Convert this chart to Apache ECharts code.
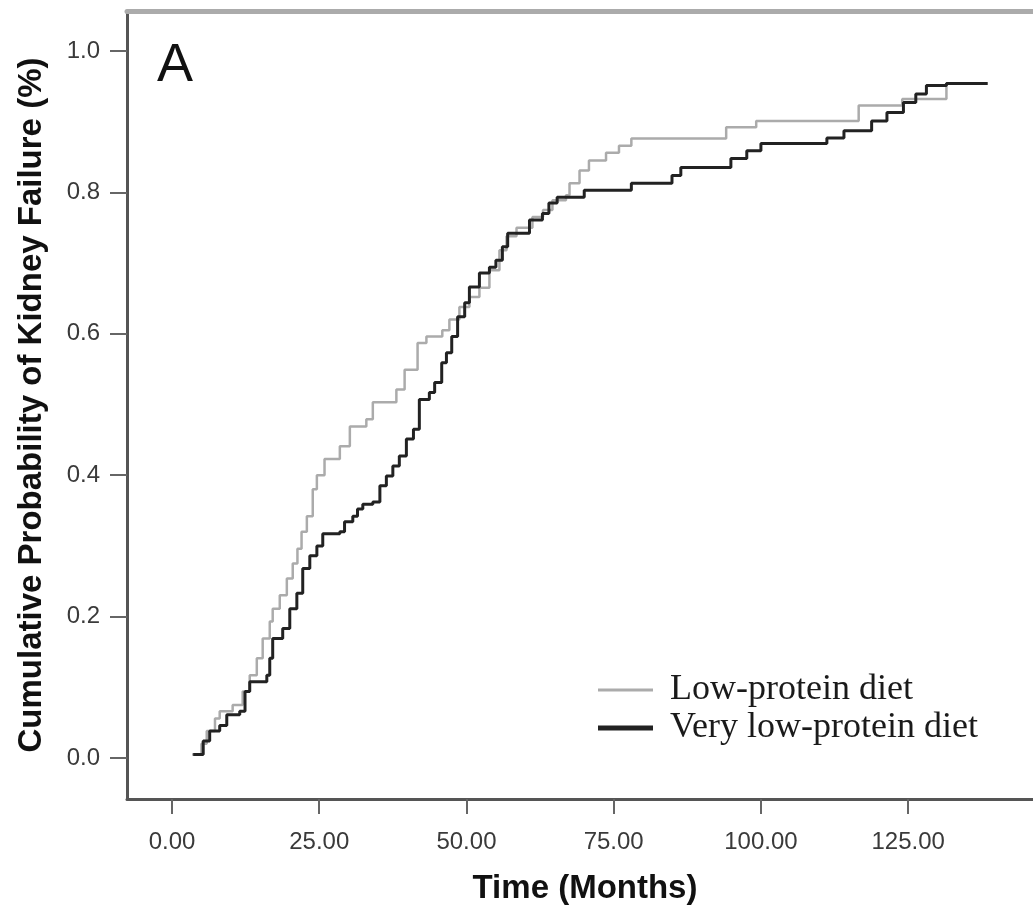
<!DOCTYPE html>
<html>
<head>
<meta charset="utf-8">
<title>Cumulative Probability of Kidney Failure</title>
<script src="https://cdn.jsdelivr.net/npm/echarts@6/dist/echarts.min.js"></script>
<style>
  html, body { margin: 0; padding: 0; background: #fff; }
  #chart { width: 1033px; height: 908px; }
</style>
</head>
<body>
<div id="chart"></div>
<script>
// low-protein diet (grey curve): event times (months) and cumulative probability
var lpdTime = [3.4, 5.0, 5.9, 7.3, 8.1, 10.3, 12.0, 13.2, 14.4, 15.4, 16.6, 17.1, 18.3, 19.5, 20.5, 21.3, 22.0, 22.9, 23.9, 24.6, 25.9, 28.5, 30.2, 33.0, 34.1, 38.1, 39.5, 41.7, 43.2, 45.9, 47.1, 48.8, 50.5, 52.2, 53.9, 55.6, 56.8, 58.5, 61.2, 63.0, 64.6, 66.9, 67.5, 69.2, 70.8, 73.7, 75.9, 78.0, 94.1, 99.2, 116.6, 124.0, 131.5, 138.5];
var lpdProb = [0.005, 0.02, 0.038, 0.056, 0.066, 0.075, 0.094, 0.117, 0.141, 0.169, 0.193, 0.211, 0.23, 0.254, 0.275, 0.296, 0.32, 0.342, 0.38, 0.40, 0.423, 0.441, 0.469, 0.479, 0.503, 0.521, 0.549, 0.587, 0.596, 0.605, 0.62, 0.638, 0.652, 0.665, 0.69, 0.718, 0.738, 0.75, 0.765, 0.775, 0.789, 0.796, 0.813, 0.831, 0.845, 0.856, 0.866, 0.876, 0.892, 0.901, 0.923, 0.932, 0.954, 0.954];

// very low-protein diet (black curve)
var vlpdTime = [3.6, 5.3, 6.4, 8.1, 9.3, 11.5, 12.4, 13.2, 16.1, 16.6, 17.1, 18.8, 20.0, 21.2, 22.2, 23.4, 24.6, 25.6, 28.5, 29.3, 30.7, 31.5, 32.4, 34.1, 35.3, 36.4, 37.5, 38.6, 39.8, 41.0, 42.0, 43.7, 44.6, 45.8, 46.6, 47.5, 48.5, 49.7, 50.5, 52.2, 53.9, 55.0, 56.1, 57.0, 60.7, 62.9, 64.0, 65.4, 70.0, 78.0, 84.9, 86.4, 94.9, 97.6, 100.0, 111.2, 114.1, 118.8, 121.4, 124.2, 126.3, 128.1, 131.5, 138.5];
var vlpdProb = [0.005, 0.024, 0.038, 0.046, 0.061, 0.066, 0.094, 0.108, 0.117, 0.141, 0.169, 0.183, 0.211, 0.233, 0.268, 0.286, 0.30, 0.317, 0.32, 0.334, 0.342, 0.352, 0.359, 0.362, 0.385, 0.399, 0.413, 0.427, 0.451, 0.465, 0.507, 0.517, 0.531, 0.559, 0.573, 0.596, 0.624, 0.644, 0.666, 0.686, 0.694, 0.704, 0.723, 0.742, 0.761, 0.770, 0.785, 0.793, 0.803, 0.813, 0.824, 0.835, 0.848, 0.859, 0.869, 0.877, 0.887, 0.901, 0.913, 0.927, 0.939, 0.951, 0.954, 0.954];

var xTicks = [0, 25, 50, 75, 100, 125];
var yTicks = [0, 0.2, 0.4, 0.6, 0.8, 1.0];

function pairs(t, p) {
  return t.map(function (v, i) { return [v, p[i]]; });
}

var chart = echarts.init(document.getElementById("chart"));

var labelFont = { fontFamily: "Liberation Sans, Arial", fontSize: 24, color: "#3a3a3a" };
var titleFont = { fontFamily: "Liberation Sans, Arial", fontSize: 33, fontWeight: "bold", color: "#111" };
var legendFont = { fontFamily: "Liberation Serif, Times New Roman", fontSize: 36, color: "#1a1a1a", lineHeight: 36, padding: [0, 0, 0, 12] };

chart.setOption({
  animation: false,
  backgroundColor: "#fff",
  grid: { left: 127, right: 0, top: 11, bottom: 109, outerBoundsMode: "none" },
  graphic: [
    {
      type: "text", left: 157, top: 39,
      style: { text: "A", font: "54px Liberation Sans, Arial", fill: "#111" }
    }
  ],
  legend: [
    {
      data: ["Low-protein diet"], left: 593, top: 667, icon: "rect",
      itemWidth: 55, itemHeight: 3, textStyle: legendFont
    },
    {
      data: ["Very low-protein diet"], left: 593, top: 705, icon: "rect",
      itemWidth: 55, itemHeight: 5, textStyle: legendFont
    }
  ],
  xAxis: [
    {
      type: "value", min: -7.64, max: 146.2,
      name: "Time (Months)", nameLocation: "middle", nameGap: 73,
      nameTextStyle: Object.assign({ padding: [0, 0, 0, 10] }, titleFont),
      axisLine: { show: true, onZero: false, lineStyle: { color: "#555", width: 3 } },
      axisTick: { show: true, customValues: xTicks, length: 15, lineStyle: { color: "#666", width: 2 } },
      axisLabel: Object.assign({ customValues: xTicks, margin: 31, formatter: function (v) { return v.toFixed(2); } }, labelFont),
      splitLine: { show: false }
    },
    {
      type: "value", position: "top", min: -7.64, max: 146.2,
      axisLine: { show: true, onZero: false, lineStyle: { color: "#ababab", width: 5 } },
      axisTick: { show: false }, axisLabel: { show: false }, splitLine: { show: false }
    }
  ],
  yAxis: {
    type: "value", min: -0.058, max: 1.0565,
    name: "Cumulative Probability of Kidney Failure (%)", nameLocation: "middle", nameGap: 79,
    nameTextStyle: titleFont,
    axisLine: { show: true, onZero: false, lineStyle: { color: "#555", width: 3 } },
    axisTick: { show: true, customValues: yTicks, length: 17, lineStyle: { color: "#666", width: 2 } },
    axisLabel: Object.assign({ customValues: yTicks, margin: 27, formatter: function (v) { return v.toFixed(1); } }, labelFont),
    splitLine: { show: false }
  },
  series: [
    {
      name: "Low-protein diet", type: "line", step: "end", symbol: "none",
      data: pairs(lpdTime, lpdProb),
      lineStyle: { color: "#ababab", width: 2.5 },
      itemStyle: { color: "#ababab" }
    },
    {
      name: "Very low-protein diet", type: "line", step: "end", symbol: "none",
      data: pairs(vlpdTime, vlpdProb),
      lineStyle: { color: "#222", width: 3 },
      itemStyle: { color: "#222" }
    }
  ]
});
</script>
</body>
</html>
